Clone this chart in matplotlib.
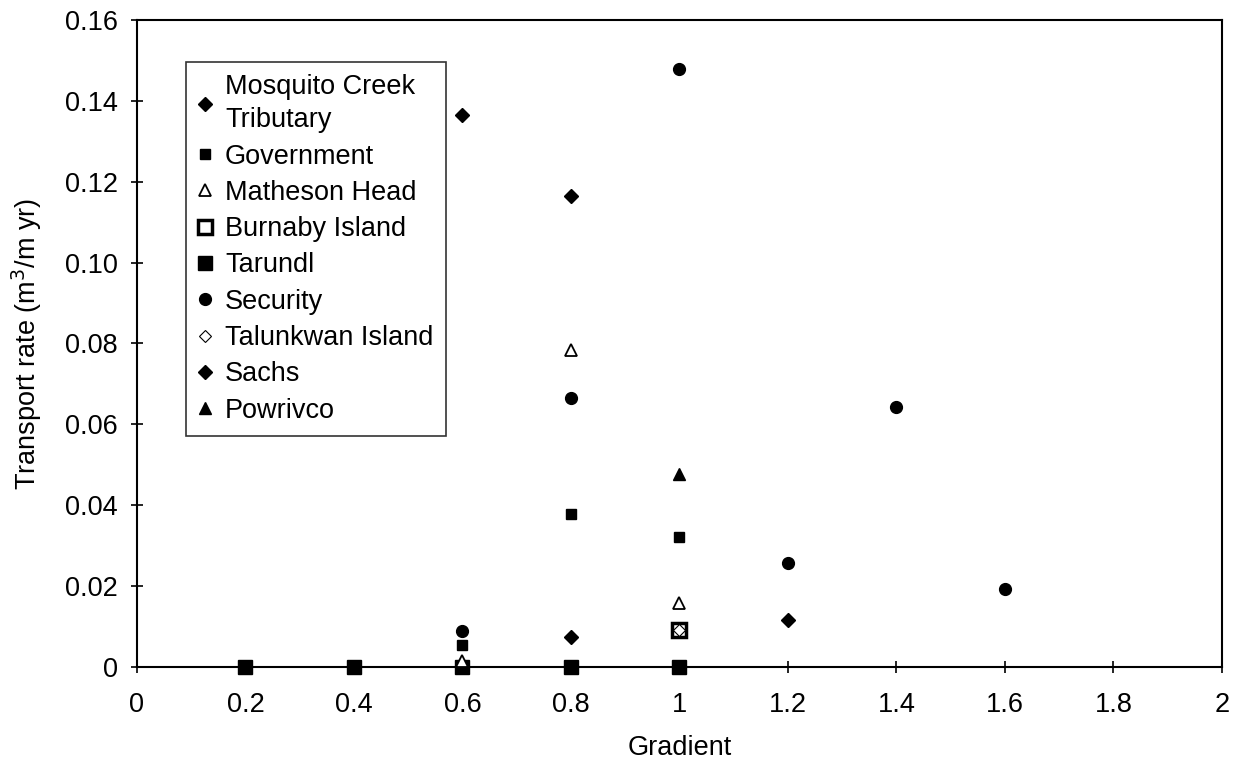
import matplotlib
matplotlib.use("Agg")
import matplotlib.pyplot as plt
from matplotlib.ticker import FixedLocator, FuncFormatter

plt.rcParams['font.family'] = ['Liberation Sans', 'DejaVu Sans']

# Transport rate (m3/m yr) against gradient, by site
mosquito_x = [0.6, 0.8]
mosquito_y = [0.1365, 0.1165]
government_x = [0.6, 0.8, 1.0]
government_y = [0.0054, 0.0379, 0.0322]
matheson_x = [0.6, 0.8, 1.0]
matheson_y = [0.0015, 0.0785, 0.0159]
burnaby_x = [1.0]
burnaby_y = [0.0092]
tarundl_x = [0.2, 0.4, 0.6, 0.8, 1.0]
tarundl_y = [0.0, 0.0, 0.0, 0.0, 0.0]
security_x = [0.6, 0.8, 1.0, 1.2, 1.4, 1.6]
security_y = [0.0089, 0.0664, 0.1478, 0.0258, 0.0642, 0.0193]
talunkwan_x = [1.0]
talunkwan_y = [0.0092]
sachs_x = [0.8, 1.2]
sachs_y = [0.0074, 0.0116]
powrivco_x = [1.0]
powrivco_y = [0.0478]

x_ticks = [0, 0.2, 0.4, 0.6, 0.8, 1.0, 1.2, 1.4, 1.6, 1.8, 2.0]
y_ticks = [0, 0.02, 0.04, 0.06, 0.08, 0.10, 0.12, 0.14, 0.16]

FS = 19.5

fig = plt.figure(figsize=(12.35, 7.6), dpi=100)
ax = fig.add_axes([0.1109, 0.1224, 0.8785, 0.8513])

k = dict(linestyle='none', color='black', markeredgecolor='black', zorder=3, clip_on=False)
ax.plot(mosquito_x, mosquito_y, marker='D', markersize=7, label='Mosquito Creek\nTributary', **k)
ax.plot(government_x, government_y, marker='s', markersize=6.5, label='Government', **k)
ax.plot(matheson_x, matheson_y, marker='^', markersize=8, markerfacecolor='white',
        markeredgewidth=1.3, label='Matheson Head', linestyle='none', color='black',
        zorder=4, clip_on=False)
ax.plot(tarundl_x, tarundl_y, marker='s', markersize=10, label='Tarundl', **k)
ax.plot(burnaby_x, burnaby_y, marker='s', markersize=10, markerfacecolor='white',
        markeredgewidth=2.5, label='Burnaby Island', linestyle='none', color='black',
        zorder=4, clip_on=False)
ax.plot(security_x, security_y, marker='o', markersize=8.5, label='Security', **k)
ax.plot(talunkwan_x, talunkwan_y, marker='D', markersize=6, markerfacecolor='white',
        markeredgewidth=0.8, label='Talunkwan Island', linestyle='none', color='black',
        zorder=5, clip_on=False)
ax.plot(sachs_x, sachs_y, marker='D', markersize=7, label='Sachs', **k)
ax.plot(powrivco_x, powrivco_y, marker='^', markersize=9, label='Powrivco', **k)

ax.set_xlim(0, 2)
ax.set_ylim(0, 0.16)
ax.xaxis.set_major_locator(FixedLocator(x_ticks))
ax.yaxis.set_major_locator(FixedLocator(y_ticks))
ax.xaxis.set_major_formatter(FuncFormatter(lambda v, p: '0' if v == 0 else f'{v:g}'))
ax.yaxis.set_major_formatter(FuncFormatter(lambda v, p: '0' if v == 0 else f'{v:.2f}'))
ax.tick_params(direction='inout', length=8, width=1.2, labelsize=FS)
ax.tick_params(axis='x', pad=14)
ax.tick_params(axis='y', pad=10)
for s in ax.spines.values():
    s.set_linewidth(1.5)

ax.set_xlabel('Gradient', fontsize=FS, labelpad=12)
ax.set_ylabel('Transport rate (m$^3$/m yr)', fontsize=FS, labelpad=15)

# legend in the series order shown in the key
handles, labels = ax.get_legend_handles_labels()
order = ['Mosquito Creek\nTributary', 'Government', 'Matheson Head', 'Burnaby Island',
         'Tarundl', 'Security', 'Talunkwan Island', 'Sachs', 'Powrivco']
hl = {l: h for h, l in zip(handles, labels)}
leg = ax.legend([hl[o] for o in order], order,
                loc='upper left', bbox_to_anchor=(0.045, 0.935), borderaxespad=0,
                fontsize=FS, frameon=True, fancybox=False, handlelength=0.5,
                handletextpad=0.5, labelspacing=0.38, borderpad=0.45, numpoints=1)
leg.get_frame().set_edgecolor('black')
leg.get_frame().set_linewidth(1.2)
leg.get_texts()[0].set_linespacing(1.35)

fig.savefig('out.png', dpi=100, facecolor='white')
